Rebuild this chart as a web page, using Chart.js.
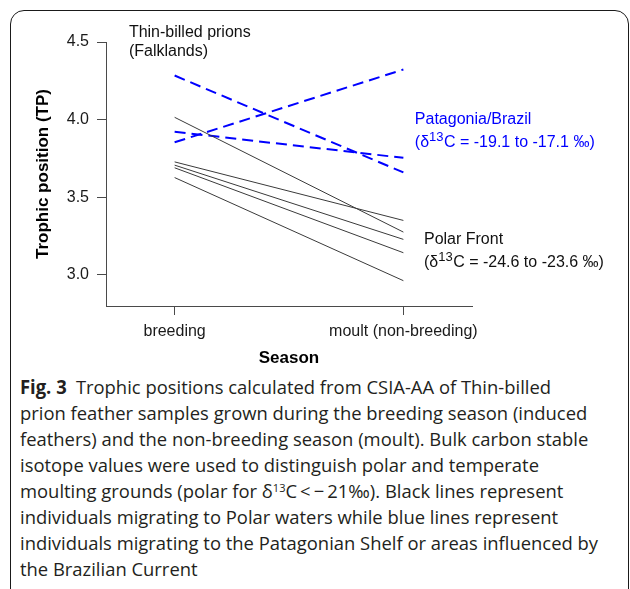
<!DOCTYPE html>
<html><head><meta charset="utf-8">
<script src="https://cdn.jsdelivr.net/npm/chart.js@4.4.0/dist/chart.umd.min.js"></script>
<style>
html,body{margin:0;padding:0;background:#fff;width:630px;height:589px;overflow:hidden;}
#wrap{position:relative;width:630px;height:589px;}
#card{position:absolute;left:10px;top:10px;width:619px;height:660px;border:1.5px solid #1a1a1a;border-radius:14px;box-sizing:border-box;}
#cv{position:absolute;left:0;top:0;}
#caption{position:absolute;left:20px;top:374px;font-family:'Open Sans',sans-serif;font-size:19px;color:#231f20;transform-origin:0 0;white-space:nowrap;}
#caption div{height:26px;line-height:26px;}
#caption sup{font-size:0.6em;vertical-align:0.55em;line-height:0;}
</style></head>
<body><div id="wrap"><div id="card"></div><canvas id="cv" width="630" height="372"></canvas>
<div id="caption">
<div><span><b>Fig. 3</b>&ensp;Trophic positions calculated from CSIA-AA of Thin-billed</span></div>
<div><span>prion feather samples grown during the breeding season (induced</span></div>
<div><span>feathers) and the non-breeding season (moult). Bulk carbon stable</span></div>
<div><span>isotope values were used to distinguish polar and temperate</span></div>
<div><span>moulting grounds (polar for δ<sup>13</sup>C&thinsp;&lt;&thinsp;−&thinsp;21‰). Black lines represent</span></div>
<div><span>individuals migrating to Polar waters while blue lines represent</span></div>
<div><span id="refline">individuals migrating to the Patagonian Shelf or areas influenced by</span></div>
<div><span>the Brazilian Current</span></div>
</div></div>
<script>
// ---- data ----
const categories = ['breeding', 'moult (non-breeding)'];
const polarBreeding = [4.015, 3.728, 3.707, 3.690, 3.627];
const polarMoult    = [3.276, 3.351, 3.229, 3.143, 2.963];
const patBreeding   = [4.284, 3.922, 3.854];
const patMoult      = [3.660, 3.754, 4.323];
const yTicks = [3.0, 3.5, 4.0, 4.5];
const xTicks = [1, 2];
const notes = [
  {x: 0.80, y: 4.53, color: '#111', gap: 19, lines: [[{t: 'Thin-billed prions'}], [{t: '(Falklands)'}]]},
  {x: 2.05, y: 3.972, color: '#0000ff', gap: 23.5, lines: [[{t: 'Patagonia/Brazil'}], [{t: '(δ'}, {t: '13', sup: true}, {t: 'C = -19.1 to -17.1 ‰)'}]]},
  {x: 2.09, y: 3.201, color: '#111', gap: 23.5, lines: [[{t: 'Polar Front'}], [{t: '(δ'}, {t: '13', sup: true}, {t: 'C = -24.6 to -23.6 ‰)'}]]}
];

const FONT = "'Liberation Sans', Arial, Helvetica, sans-serif";
const AXIS = '#4a4a4a';

const datasets = [];
polarBreeding.forEach((b, i) => datasets.push({
  data: [{x: xTicks[0], y: b}, {x: xTicks[1], y: polarMoult[i]}],
  borderColor: '#3a3a3a', borderWidth: 1, pointRadius: 0, fill: false, tension: 0
}));
patBreeding.forEach((b, i) => datasets.push({
  data: [{x: xTicks[0], y: b}, {x: xTicks[1], y: patMoult[i]}],
  borderColor: '#0000ff', borderWidth: 2, borderDash: [11, 6], pointRadius: 0, fill: false, tension: 0
}));

const notePlugin = {
  id: 'notes',
  afterDatasetsDraw(chart) {
    const ctx = chart.ctx, xs = chart.scales.x, ys = chart.scales.y;
    ctx.save();
    ctx.textBaseline = 'alphabetic';
    ctx.textAlign = 'left';
    notes.forEach(n => {
      const px = xs.getPixelForValue(n.x), py = ys.getPixelForValue(n.y);
      ctx.fillStyle = n.color;
      n.lines.forEach((segs, li) => {
        let cx = px;
        const by = py + li * n.gap;
        segs.forEach(s => {
          ctx.font = (s.sup ? '13px ' : '16px ') + FONT;
          ctx.fillText(s.t, cx, s.sup ? by - 6 : by);
          cx += ctx.measureText(s.t).width + (s.sup ? 0.5 : 0);
        });
      });
    });
    ctx.restore();
  }
};

new Chart(document.getElementById('cv'), {
  type: 'line',
  data: {datasets},
  plugins: [notePlugin],
  options: {
    responsive: false, animation: false, devicePixelRatio: 1,
    layout: {padding: {left: 0, top: 42, right: 158, bottom: 0}},
    plugins: {legend: {display: false}, tooltip: {enabled: false}},
    scales: {
      x: {
        type: 'linear', min: 0.7, max: 2.3,
        afterBuildTicks: s => { s.ticks = xTicks.map(v => ({value: v})); },
        afterFit: s => { s.height = 66; },
        ticks: {callback: v => categories[Math.round(v) - 1], font: {family: FONT, size: 16}, color: '#1a1a1a', padding: 7, maxRotation: 0, autoSkip: false},
        grid: {drawOnChartArea: false, drawTicks: true, tickLength: 9, color: AXIS, lineWidth: 1},
        border: {display: true, color: AXIS, width: 1},
        title: {display: true, text: 'Season', font: {family: FONT, size: 17, weight: 'bold'}, color: '#000', padding: {top: 0, bottom: 3}}
      },
      y: {
        type: 'linear', min: 2.8, max: 4.5,
        afterBuildTicks: s => { s.ticks = yTicks.map(v => ({value: v})); },
        afterFit: s => { s.width = 106; },
        ticks: {callback: v => v.toFixed(1), font: {family: FONT, size: 16}, color: '#1a1a1a', padding: 8},
        grid: {drawOnChartArea: false, drawTicks: true, tickLength: 9, color: AXIS, lineWidth: 1},
        border: {display: true, color: AXIS, width: 1},
        title: {display: true, text: 'Trophic position (TP)', font: {family: FONT, size: 17, weight: 'bold'}, color: '#000', padding: {top: 33, bottom: 0}}
      }
    }
  }
});

// fit caption width to the reference's line measure
(function () {
  const cap = document.getElementById('caption');
  const w = document.getElementById('refline').getBoundingClientRect().width;
  if (w > 0) cap.style.transform = 'scaleX(' + (578 / w) + ')';
})();
</script>
</body></html>
